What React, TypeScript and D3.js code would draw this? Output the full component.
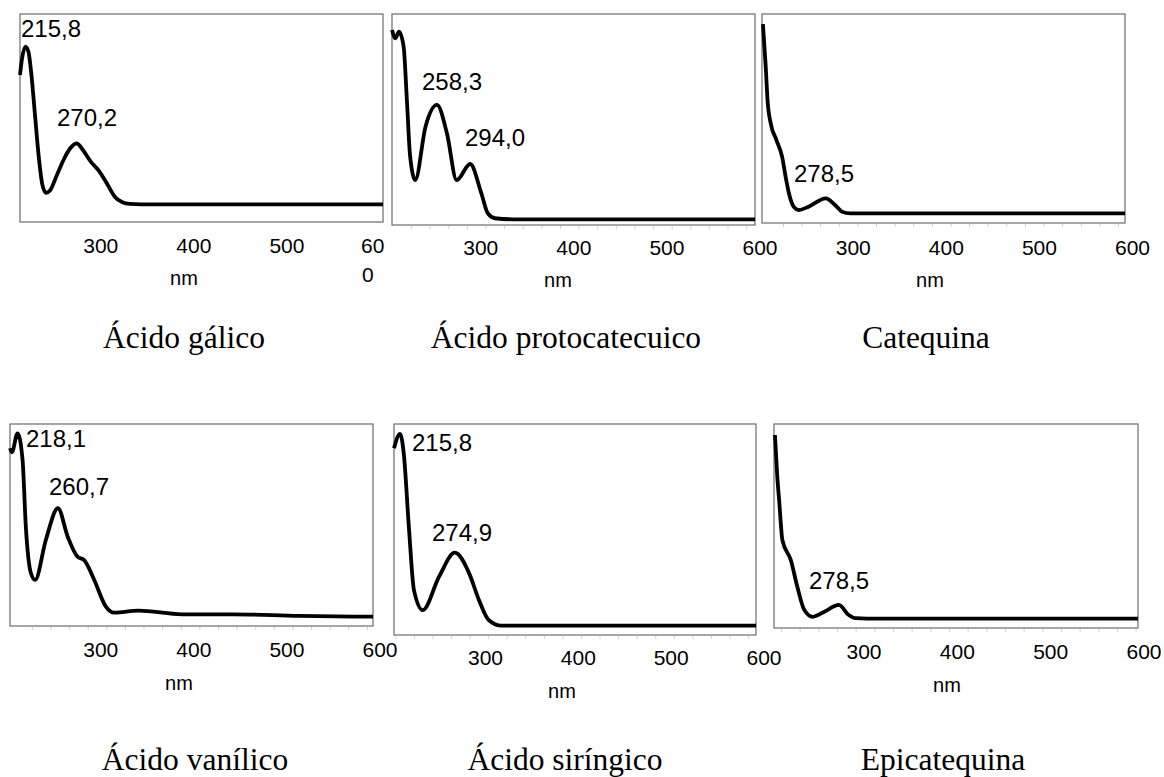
import React from "react";
import * as d3 from "d3";

// ---------- data (wavelength nm, relative absorbance 0..1) ----------
const wavelengthTicks = [300, 400, 500, 600];

const galico: [number, number][] = [
  [210, 0.707], [212, 0.78], [215.8, 0.843], [219, 0.82], [222, 0.72], [226, 0.52],
  [230, 0.32], [234, 0.18], [238, 0.14], [242, 0.15], [250, 0.23], [258, 0.31],
  [265, 0.36], [271, 0.378], [277, 0.35], [286, 0.29], [295, 0.245], [304, 0.18],
  [312, 0.12], [320, 0.095], [328, 0.087], [340, 0.085], [600, 0.085],
];
const galicoPeaks = ["215,8", "270,2"];

const protocatecuico: [number, number][] = [
  [210, 0.924], [213.5, 0.885], [217.5, 0.916], [222.5, 0.845], [226, 0.592],
  [229.5, 0.324], [235, 0.213], [246, 0.466], [258.3, 0.569], [269, 0.435],
  [279.5, 0.213], [294, 0.289], [306, 0.15], [313, 0.055], [320.5, 0.032],
  [340, 0.027], [600, 0.027],
];
const protocatecuicoPeaks = ["258,3", "294,0"];

const catequina: [number, number][] = [
  [211, 0.952], [214, 0.748], [216, 0.584], [219.5, 0.474], [225.5, 0.397],
  [231.5, 0.319], [236, 0.206], [239, 0.141], [244, 0.078], [249.5, 0.062],
  [260, 0.078], [278.5, 0.118], [288.5, 0.086], [296, 0.054], [305, 0.046],
  [600, 0.046],
];
const catequinaPeaks = ["278,5"];

const vanilico: [number, number][] = [
  [210, 0.88], [212, 0.86], [218.1, 0.954], [223.5, 0.822], [227, 0.492],
  [232.5, 0.261], [237, 0.228], [248.5, 0.426], [261.5, 0.583], [272, 0.442],
  [282.5, 0.343], [289.5, 0.327], [300.5, 0.228], [313, 0.096], [322, 0.066],
  [348, 0.076], [395, 0.058], [450, 0.058], [520, 0.05], [600, 0.046],
];
const vanilicoPeaks = ["218,1", "260,7"];

const siringico: [number, number][] = [
  [210, 0.885], [216.5, 0.953], [220.5, 0.861], [226, 0.513], [231.5, 0.213],
  [241, 0.118], [258.5, 0.276], [275.5, 0.39], [291, 0.292], [301.5, 0.166],
  [312, 0.071], [326, 0.044], [600, 0.044],
];
const siringicoPeaks = ["215,8", "274,9"];

const epicatequina: [number, number][] = [
  [211, 0.946], [213.5, 0.742], [215.5, 0.627], [219, 0.431], [228, 0.333],
  [235, 0.202], [242.5, 0.088], [251.5, 0.055], [264, 0.08], [279.5, 0.113],
  [290, 0.064], [297, 0.048], [310, 0.046], [600, 0.046],
];
const epicatequinaPeaks = ["278,5"];

// ---------- layout ----------
type Panel = {
  title: string;
  data: [number, number][];
  peaks: string[];
  box: { x: number; y: number; w: number; h: number };
  labelDx: number;
  labelY: number;
  nmX: number;
  nmY: number;
  titleX: number;
  titleY: number;
  peakPos: [number, number][];
  tickStart: number | null;
  wrapLast?: boolean;
};

const panels: Panel[] = [
  {
    title: "Ácido gálico", data: galico, peaks: galicoPeaks,
    box: { x: 20, y: 14, w: 363, h: 208 }, labelDx: -3, labelY: 253,
    nmX: 184, nmY: 285, titleX: 184, titleY: 348,
    peakPos: [[21, 37], [57, 126]], tickStart: null, wrapLast: true,
  },
  {
    title: "Ácido protocatecuico", data: protocatecuico, peaks: protocatecuicoPeaks,
    box: { x: 392, y: 14, w: 363, h: 211 }, labelDx: 5, labelY: 255,
    nmX: 558, nmY: 287, titleX: 566, titleY: 348,
    peakPos: [[422, 90], [465, 146]], tickStart: 231,
  },
  {
    title: "Catequina", data: catequina, peaks: catequinaPeaks,
    box: { x: 762, y: 14, w: 363, h: 209 }, labelDx: 7.5, labelY: 255,
    nmX: 930, nmY: 287, titleX: 926, titleY: 348,
    peakPos: [[794, 182]], tickStart: 233,
  },
  {
    title: "Ácido vanílico", data: vanilico, peaks: vanilicoPeaks,
    box: { x: 10, y: 424, w: 363, h: 202 }, labelDx: 7, labelY: 657,
    nmX: 179, nmY: 690, titleX: 195, titleY: 770,
    peakPos: [[26, 447], [49, 495]], tickStart: 234,
  },
  {
    title: "Ácido siríngico", data: siringico, peaks: siringicoPeaks,
    box: { x: 394, y: 424, w: 362, h: 211 }, labelDx: 8, labelY: 665,
    nmX: 562, nmY: 698, titleX: 565, titleY: 770,
    peakPos: [[412, 451], [432, 541]], tickStart: 212,
  },
  {
    title: "Epicatequina", data: epicatequina, peaks: epicatequinaPeaks,
    box: { x: 774, y: 424, w: 364, h: 204 }, labelDx: 6, labelY: 659,
    nmX: 947, nmY: 692, titleX: 943, titleY: 770,
    peakPos: [[809, 589]], tickStart: 218,
  },
];

const SANS = "'Liberation Sans', Arial, sans-serif";
const SERIF = "'Liberation Serif', 'Times New Roman', serif";

function SpectrumPanel({ p }: { p: Panel }) {
  const { x, y, w, h } = p.box;
  const xs = d3.scaleLinear().domain([210, 600]).range([x, x + w]);
  const ys = d3.scaleLinear().domain([0, 1]).range([y + h, y]);
  const line = d3
    .line<[number, number]>()
    .x((d) => xs(d[0]))
    .y((d) => ys(d[1]))
    .curve(d3.curveMonotoneX);
  const minor = p.tickStart != null ? d3.range(p.tickStart, 600, 20) : [];
  return (
    <g>
      <rect x={x} y={y} width={w} height={h} fill="none" stroke="#6b6b6b" strokeWidth={1.2} />
      {minor.map((t) => (
        <line key={t} x1={xs(t)} x2={xs(t)} y1={y + h + 1} y2={y + h + 4} stroke="#cfcfcf" strokeWidth={1} />
      ))}
      <path d={line(p.data) || ""} fill="none" stroke="#000" strokeWidth={3.8} strokeLinejoin="round" />
      {wavelengthTicks.map((t, i) => {
        const last = i === wavelengthTicks.length - 1;
        if (last && p.wrapLast) {
          return (
            <text key={t} x={xs(t) - 22} y={p.labelY} fontFamily={SANS} fontSize={21} fill="#000">
              <tspan x={xs(t) - 22}>{String(t).slice(0, 2)}</tspan>
              <tspan x={xs(t) - 21} dy={29}>{String(t).slice(2)}</tspan>
            </text>
          );
        }
        return (
          <text key={t} x={xs(t) + p.labelDx} y={p.labelY} textAnchor="middle" fontFamily={SANS} fontSize={21} fill="#000">
            {t}
          </text>
        );
      })}
      <text x={p.nmX} y={p.nmY} textAnchor="middle" fontFamily={SANS} fontSize={20} fill="#000">nm</text>
      {p.peaks.map((lbl, i) => (
        <text key={lbl + i} x={p.peakPos[i][0]} y={p.peakPos[i][1]} fontFamily={SANS} fontSize={24} fill="#000">
          {lbl}
        </text>
      ))}
      <text x={p.titleX} y={p.titleY} textAnchor="middle" fontFamily={SERIF} fontSize={31.5} fill="#000">
        {p.title}
      </text>
    </g>
  );
}

export default function App() {
  return (
    <svg
      width={1164}
      height={777}
      style={{ position: "absolute", left: 0, top: 0, background: "#fff" }}
    >
      <rect x={0} y={0} width={1164} height={777} fill="#fff" />
      {panels.map((p) => (
        <SpectrumPanel key={p.title} p={p} />
      ))}
    </svg>
  );
}
